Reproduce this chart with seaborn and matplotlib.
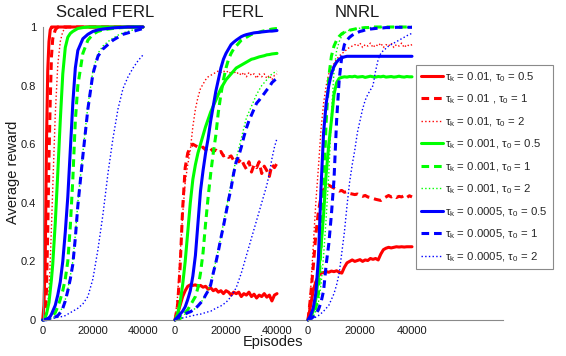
import matplotlib
matplotlib.use("Agg")
import matplotlib.pyplot as plt
import seaborn as sns

# episodes for the scaled FERL panel (finer at the start)
sf_ep = [0, 500, 1000, 1500, 2000, 2500, 3000, 3500, 4000, 5000, 6000, 7000, 8000,
         9000, 10000, 11000, 12000, 13000, 14000, 16000, 18000, 20000, 22000, 24000,
         26000, 28000, 30000, 32000, 34000, 36000, 38000, 40000]

# episodes for FERL and NNRL panels
ep = [0, 1000, 2000, 3000, 4000, 5000, 6000, 7000, 8000, 9000, 10000, 11000, 12000,
      13000, 14000, 15000, 16000, 17000, 18000, 19000, 20000, 21000, 22000, 23000,
      24000, 25000, 26000, 27000, 28000, 29000, 30000, 31000, 32000, 33000, 34000,
      35000, 36000, 37000, 38000, 39000, 40000]

# ---- Scaled FERL ----
sf_r05 = [0, 0.05, 0.2, 0.6, 0.85, 0.95, 0.99, 1, 1, 1, 1, 1, 1, 1, 1, 1, 1, 1, 1, 1,
          1, 1, 1, 1, 1, 1, 1, 1, 1, 1, 1, 1]
sf_r1 = [0, 0.01, 0.03, 0.1, 0.3, 0.55, 0.75, 0.9, 0.96, 0.99, 1, 1, 1, 1, 1, 1, 1, 1,
         1, 1, 1, 1, 1, 1, 1, 1, 1, 1, 1, 1, 1, 1]
sf_r2 = [0, 0.005, 0.01, 0.03, 0.05, 0.1, 0.2, 0.32, 0.45, 0.7, 0.87, 0.95, 0.985,
         0.995, 1, 1, 1, 1, 1, 1, 1, 1, 1, 1, 1, 1, 1, 1, 1, 1, 1, 1]
sf_g05 = [0, 0.002, 0.01, 0.02, 0.04, 0.06, 0.1, 0.14, 0.19, 0.33, 0.5, 0.68, 0.84,
          0.93, 0.965, 0.978, 0.985, 0.99, 0.995, 0.998, 1, 1, 1, 1, 1, 1, 1, 1, 1, 1,
          1, 1]
sf_g1 = [0, 0.001, 0.002, 0.003, 0.004, 0.005, 0.007, 0.01, 0.015, 0.025, 0.045, 0.07,
         0.1, 0.14, 0.2, 0.32, 0.48, 0.68, 0.8, 0.91, 0.955, 0.975, 0.985, 0.99, 0.993,
         0.995, 0.997, 0.998, 1, 1, 1, 1]
sf_g2 = [0, 0, 0.001, 0.002, 0.003, 0.004, 0.005, 0.006, 0.008, 0.012, 0.018, 0.03,
         0.045, 0.07, 0.105, 0.15, 0.2, 0.29, 0.4, 0.57, 0.73, 0.85, 0.91, 0.935, 0.95,
         0.962, 0.972, 0.98, 0.985, 0.99, 0.994, 0.997]
sf_b05 = [0, 0.001, 0.002, 0.003, 0.005, 0.008, 0.012, 0.02, 0.03, 0.05, 0.085, 0.13,
          0.2, 0.3, 0.42, 0.58, 0.74, 0.86, 0.92, 0.96, 0.975, 0.985, 0.99, 0.993, 0.995,
          0.997, 0.998, 0.999, 1, 1, 1, 1]
sf_b1 = [0, 0, 0.001, 0.001, 0.002, 0.002, 0.003, 0.004, 0.005, 0.01, 0.015, 0.025,
         0.04, 0.065, 0.1, 0.14, 0.19, 0.28, 0.39, 0.56, 0.72, 0.84, 0.9, 0.925, 0.94,
         0.955, 0.965, 0.975, 0.98, 0.985, 0.99, 0.995]
sf_b2 = [0, 0, 0.001, 0.001, 0.002, 0.002, 0.003, 0.004, 0.005, 0.007, 0.009, 0.011,
         0.012, 0.015, 0.02, 0.025, 0.03, 0.035, 0.04, 0.055, 0.08, 0.14, 0.24, 0.36,
         0.5, 0.62, 0.72, 0.79, 0.83, 0.86, 0.885, 0.905]

# ---- FERL ----
fe_r05 = [0, 0.02, 0.05, 0.08, 0.1, 0.115, 0.12, 0.118, 0.12, 0.115, 0.118, 0.112,
          0.115, 0.105, 0.11, 0.1, 0.105, 0.095, 0.1, 0.09, 0.1, 0.095, 0.085, 0.095,
          0.09, 0.095, 0.08, 0.09, 0.085, 0.095, 0.08, 0.088, 0.075, 0.085, 0.08, 0.09,
          0.078, 0.085, 0.065, 0.085, 0.09]
fe_r1 = [0, 0.05, 0.18, 0.38, 0.52, 0.57, 0.59, 0.6, 0.595, 0.59, 0.585, 0.59, 0.58,
         0.59, 0.585, 0.575, 0.58, 0.57, 0.575, 0.56, 0.565, 0.555, 0.56, 0.545, 0.555,
         0.54, 0.55, 0.53, 0.515, 0.54, 0.505, 0.53, 0.52, 0.54, 0.5, 0.525, 0.51, 0.49,
         0.53, 0.52, 0.535]
fe_r2 = [0, 0.08, 0.22, 0.36, 0.47, 0.53, 0.58, 0.66, 0.72, 0.76, 0.79, 0.805, 0.82,
         0.83, 0.835, 0.84, 0.845, 0.85, 0.845, 0.85, 0.845, 0.85, 0.84, 0.85, 0.84,
         0.845, 0.835, 0.845, 0.83, 0.845, 0.835, 0.84, 0.825, 0.84, 0.83, 0.84, 0.825,
         0.835, 0.82, 0.835, 0.84]
fe_g05 = [0, 0.02, 0.06, 0.12, 0.2, 0.3, 0.4, 0.48, 0.53, 0.57, 0.6, 0.63, 0.66, 0.685,
          0.71, 0.73, 0.75, 0.77, 0.79, 0.805, 0.82, 0.83, 0.84, 0.85, 0.86, 0.865, 0.87,
          0.875, 0.88, 0.885, 0.89, 0.892, 0.895, 0.898, 0.9, 0.902, 0.905, 0.906, 0.908,
          0.909, 0.91]
fe_g1 = [0, 0.003, 0.005, 0.012, 0.025, 0.035, 0.05, 0.065, 0.08, 0.11, 0.16, 0.23,
         0.33, 0.42, 0.5, 0.57, 0.63, 0.71, 0.77, 0.82, 0.86, 0.89, 0.91, 0.925, 0.935,
         0.945, 0.955, 0.96, 0.965, 0.97, 0.975, 0.977, 0.98, 0.982, 0.985, 0.987, 0.99,
         0.991, 0.993, 0.994, 0.995]
fe_g2 = [0, 0.008, 0.015, 0.018, 0.02, 0.025, 0.028, 0.033, 0.04, 0.048, 0.058, 0.07,
         0.087, 0.103, 0.125, 0.165, 0.2, 0.24, 0.285, 0.33, 0.375, 0.42, 0.465, 0.51,
         0.55, 0.585, 0.62, 0.655, 0.69, 0.71, 0.73, 0.75, 0.77, 0.785, 0.8, 0.81, 0.82,
         0.83, 0.84, 0.845, 0.85]
fe_b05 = [0, 0.01, 0.02, 0.03, 0.045, 0.07, 0.1, 0.15, 0.22, 0.33, 0.44, 0.51, 0.57,
          0.62, 0.68, 0.73, 0.78, 0.82, 0.86, 0.89, 0.91, 0.925, 0.94, 0.948, 0.955,
          0.961, 0.967, 0.971, 0.974, 0.976, 0.978, 0.98, 0.981, 0.982, 0.983, 0.984,
          0.985, 0.986, 0.986, 0.987, 0.988]
fe_b1 = [0, 0.008, 0.015, 0.018, 0.02, 0.025, 0.028, 0.033, 0.04, 0.048, 0.058, 0.068,
         0.085, 0.1, 0.12, 0.16, 0.195, 0.235, 0.28, 0.32, 0.365, 0.41, 0.45, 0.5, 0.54,
         0.56, 0.59, 0.625, 0.655, 0.68, 0.7, 0.72, 0.74, 0.75, 0.762, 0.773, 0.785,
         0.795, 0.81, 0.818, 0.825]
fe_b2 = [0, 0.003, 0.005, 0.007, 0.009, 0.011, 0.013, 0.015, 0.017, 0.019, 0.02, 0.023,
         0.025, 0.028, 0.03, 0.035, 0.04, 0.044, 0.048, 0.054, 0.06, 0.07, 0.08, 0.095,
         0.11, 0.135, 0.16, 0.19, 0.22, 0.25, 0.28, 0.31, 0.34, 0.37, 0.4, 0.43, 0.46,
         0.5, 0.55, 0.59, 0.62]

# ---- NNRL ----
nn_r05 = [0, 0.05, 0.1, 0.13, 0.15, 0.16, 0.162, 0.165, 0.163, 0.167, 0.165, 0.168,
          0.163, 0.16, 0.18, 0.195, 0.2, 0.205, 0.2, 0.203, 0.206, 0.2, 0.205, 0.203,
          0.21, 0.207, 0.21, 0.205, 0.225, 0.24, 0.245, 0.248, 0.246, 0.248, 0.25,
          0.249, 0.25, 0.249, 0.25, 0.25, 0.25]
nn_r1 = [0, 0.08, 0.18, 0.29, 0.37, 0.42, 0.445, 0.455, 0.46, 0.455, 0.45, 0.445, 0.44,
         0.442, 0.436, 0.438, 0.432, 0.43, 0.428, 0.43, 0.425, 0.422, 0.425, 0.42, 0.418,
         0.415, 0.412, 0.41, 0.408, 0.415, 0.42, 0.425, 0.42, 0.424, 0.418, 0.422, 0.42,
         0.425, 0.418, 0.424, 0.42]
nn_r2 = [0, 0.1, 0.25, 0.4, 0.52, 0.65, 0.74, 0.8, 0.84, 0.86, 0.875, 0.89, 0.9, 0.91,
         0.915, 0.925, 0.93, 0.935, 0.94, 0.935, 0.945, 0.93, 0.94, 0.935, 0.945, 0.93,
         0.94, 0.935, 0.945, 0.93, 0.94, 0.935, 0.945, 0.93, 0.94, 0.935, 0.945, 0.93,
         0.94, 0.935, 0.94]
nn_g05 = [0, 0.01, 0.03, 0.07, 0.15, 0.25, 0.36, 0.5, 0.6, 0.68, 0.77, 0.81, 0.825,
          0.828, 0.83, 0.829, 0.831, 0.83, 0.832, 0.829, 0.83, 0.831, 0.828, 0.83, 0.832,
          0.83, 0.829, 0.831, 0.83, 0.832, 0.829, 0.83, 0.831, 0.829, 0.83, 0.832, 0.83,
          0.829, 0.831, 0.83, 0.83]
nn_g1 = [0, 0.005, 0.02, 0.04, 0.09, 0.25, 0.45, 0.68, 0.83, 0.9, 0.935, 0.955, 0.968,
         0.977, 0.982, 0.986, 0.989, 0.991, 0.993, 0.995, 0.996, 0.997, 0.998, 0.998,
         0.999, 1, 1, 1, 1, 1, 1, 1, 1, 1, 1, 1, 1, 1, 1, 1, 1]
nn_g2 = [0, 0.005, 0.01, 0.03, 0.06, 0.12, 0.22, 0.35, 0.5, 0.7, 0.85, 0.92, 0.95,
         0.97, 0.98, 0.985, 0.99, 0.992, 0.994, 0.995, 0.996, 0.997, 0.997, 0.998,
         0.998, 0.999, 0.999, 0.999, 0.999, 0.999, 0.999, 0.999, 0.999, 0.999, 0.999,
         0.999, 0.999, 0.999, 0.999, 0.999, 0.999]
nn_b05 = [0, 0.015, 0.04, 0.09, 0.21, 0.45, 0.64, 0.74, 0.8, 0.84, 0.865, 0.88, 0.89,
          0.895, 0.898, 0.9, 0.9, 0.9, 0.9, 0.9, 0.9, 0.9, 0.9, 0.9, 0.9, 0.9, 0.9, 0.9,
          0.9, 0.9, 0.9, 0.9, 0.9, 0.9, 0.9, 0.9, 0.9, 0.9, 0.9, 0.9, 0.9]
nn_b1 = [0, 0.005, 0.01, 0.02, 0.035, 0.06, 0.1, 0.19, 0.26, 0.36, 0.48, 0.68, 0.82,
         0.9, 0.94, 0.955, 0.965, 0.972, 0.977, 0.981, 0.985, 0.987, 0.99, 0.991, 0.993,
         0.994, 0.995, 0.996, 0.997, 0.997, 0.998, 0.998, 0.998, 0.998, 0.999, 0.999,
         0.999, 0.999, 0.999, 0.999, 0.999]
nn_b2 = [0, 0.003, 0.005, 0.01, 0.015, 0.022, 0.03, 0.04, 0.05, 0.07, 0.09, 0.12, 0.16,
         0.23, 0.3, 0.39, 0.47, 0.53, 0.58, 0.64, 0.68, 0.72, 0.75, 0.77, 0.785, 0.8,
         0.85, 0.89, 0.91, 0.92, 0.927, 0.935, 0.94, 0.945, 0.95, 0.955, 0.96, 0.965,
         0.97, 0.975, 0.978]

labels = [r'$\tau_k$ = 0.01, $\tau_0$ = 0.5',
          r'$\tau_k$ = 0.01 , $\tau_0$ = 1',
          r'$\tau_k$ = 0.01, $\tau_0$ = 2',
          r'$\tau_k$ = 0.001, $\tau_0$ = 0.5',
          r'$\tau_k$ = 0.001, $\tau_0$ = 1',
          r'$\tau_k$ = 0.001, $\tau_0$ = 2',
          r'$\tau_k$ = 0.0005, $\tau_0$ = 0.5',
          r'$\tau_k$ = 0.0005, $\tau_0$ = 1',
          r'$\tau_k$ = 0.0005, $\tau_0$ = 2']

colors = ['#ff0000'] * 3 + ['#00ff00'] * 3 + ['#0000ff'] * 3
styles = ['-', (0, (2.5, 1.6)), ':'] * 3
widths = [2.2, 2.2, 1.0] * 3

panels = [
    ("Scaled FERL", sf_ep, [sf_r05, sf_r1, sf_r2, sf_g05, sf_g1, sf_g2, sf_b05, sf_b1, sf_b2]),
    ("FERL", ep, [fe_r05, fe_r1, fe_r2, fe_g05, fe_g1, fe_g2, fe_b05, fe_b1, fe_b2]),
    ("NNRL", ep, [nn_r05, nn_r1, nn_r2, nn_g05, nn_g1, nn_g2, nn_b05, nn_b1, nn_b2]),
]

sns.set_style("white")
plt.rcParams['font.family'] = ['Liberation Sans', 'DejaVu Sans']
plt.rcParams['mathtext.fontset'] = 'custom'
plt.rcParams['mathtext.rm'] = 'Liberation Sans'
plt.rcParams['mathtext.it'] = 'Liberation Sans'
plt.rcParams['mathtext.bf'] = 'Liberation Sans:bold'

W, H = 566.0, 356.0
fig = plt.figure(figsize=(W / 100, H / 100), dpi=100)

# axes boxes in pixels: left, width, right end of x range
boxes = [(42.7, 130.5, 52000), (175, 132.6, 52000), (308, 195, 75000)]
title_x = [105, 243, 357.5]
axis_grey = '#8a8a8a'

axes = []
for i, (title, x, series) in enumerate(panels):
    left, width, xmax = boxes[i]
    ax = fig.add_axes([left / W, 36 / H, width / W, 293 / H])
    ax.patch.set_alpha(0)
    for y, c, ls, lw in zip(series, colors, styles, widths):
        sns.lineplot(x=x, y=y, ax=ax, color=c, linestyle=ls, linewidth=lw,
                     clip_on=False)
    ax.set_xlim(0, xmax)
    ax.set_ylim(0, 1)
    ax.set_xlabel("")
    ax.set_ylabel("")
    ax.set_xticks([0, 20000, 40000])
    ax.set_xticklabels(["0", "20000", "40000"])
    ax.tick_params(axis='x', direction='in', length=3.5, width=0.8, color=axis_grey,
                   labelcolor='#1a1a1a', labelsize=8, pad=4)
    sns.despine(ax=ax, top=True, right=True, left=(i > 0))
    ax.spines['bottom'].set_color(axis_grey)
    ax.spines['bottom'].set_linewidth(0.8)
    if i == 0:
        ax.spines['left'].set_color(axis_grey)
        ax.spines['left'].set_linewidth(0.8)
        ax.set_yticks([0, 0.2, 0.4, 0.6, 0.8, 1])
        ax.set_yticklabels(["0", "0.2", "0.4", "0.6", "0.8", "1"])
        ax.tick_params(axis='y', direction='out', length=3, width=0.8, color=axis_grey,
                       labelcolor='#1a1a1a', labelsize=8, pad=1.8)
    else:
        ax.set_yticks([])
    fig.text(title_x[i] / W, 1 - 16.7 / H, title, ha='center', va='baseline',
             fontsize=12, color='#1a1a1a')
    axes.append(ax)

fig.text(13 / W, 1 - 172 / H, "Average reward", rotation=90, ha='center',
         va='center', fontsize=10.5, color='#1a1a1a')
fig.text(273 / W, 1 - 346 / H, "Episodes", ha='center', va='baseline',
         fontsize=10.5, color='#1a1a1a')

handles = axes[0].get_lines()[:9]
leg = fig.legend(handles, labels, loc='upper left',
                 bbox_to_anchor=(415.5 / W, 1 - 65 / H),
                 bbox_transform=fig.transFigure, frameon=True, fancybox=False,
                 edgecolor=axis_grey, framealpha=1, fontsize=8.2,
                 handlelength=1.95, handletextpad=0.2, labelspacing=0.78,
                 borderpad=0.45, borderaxespad=0)
leg.get_frame().set_linewidth(0.8)

fig.savefig("out.png", dpi=100)
